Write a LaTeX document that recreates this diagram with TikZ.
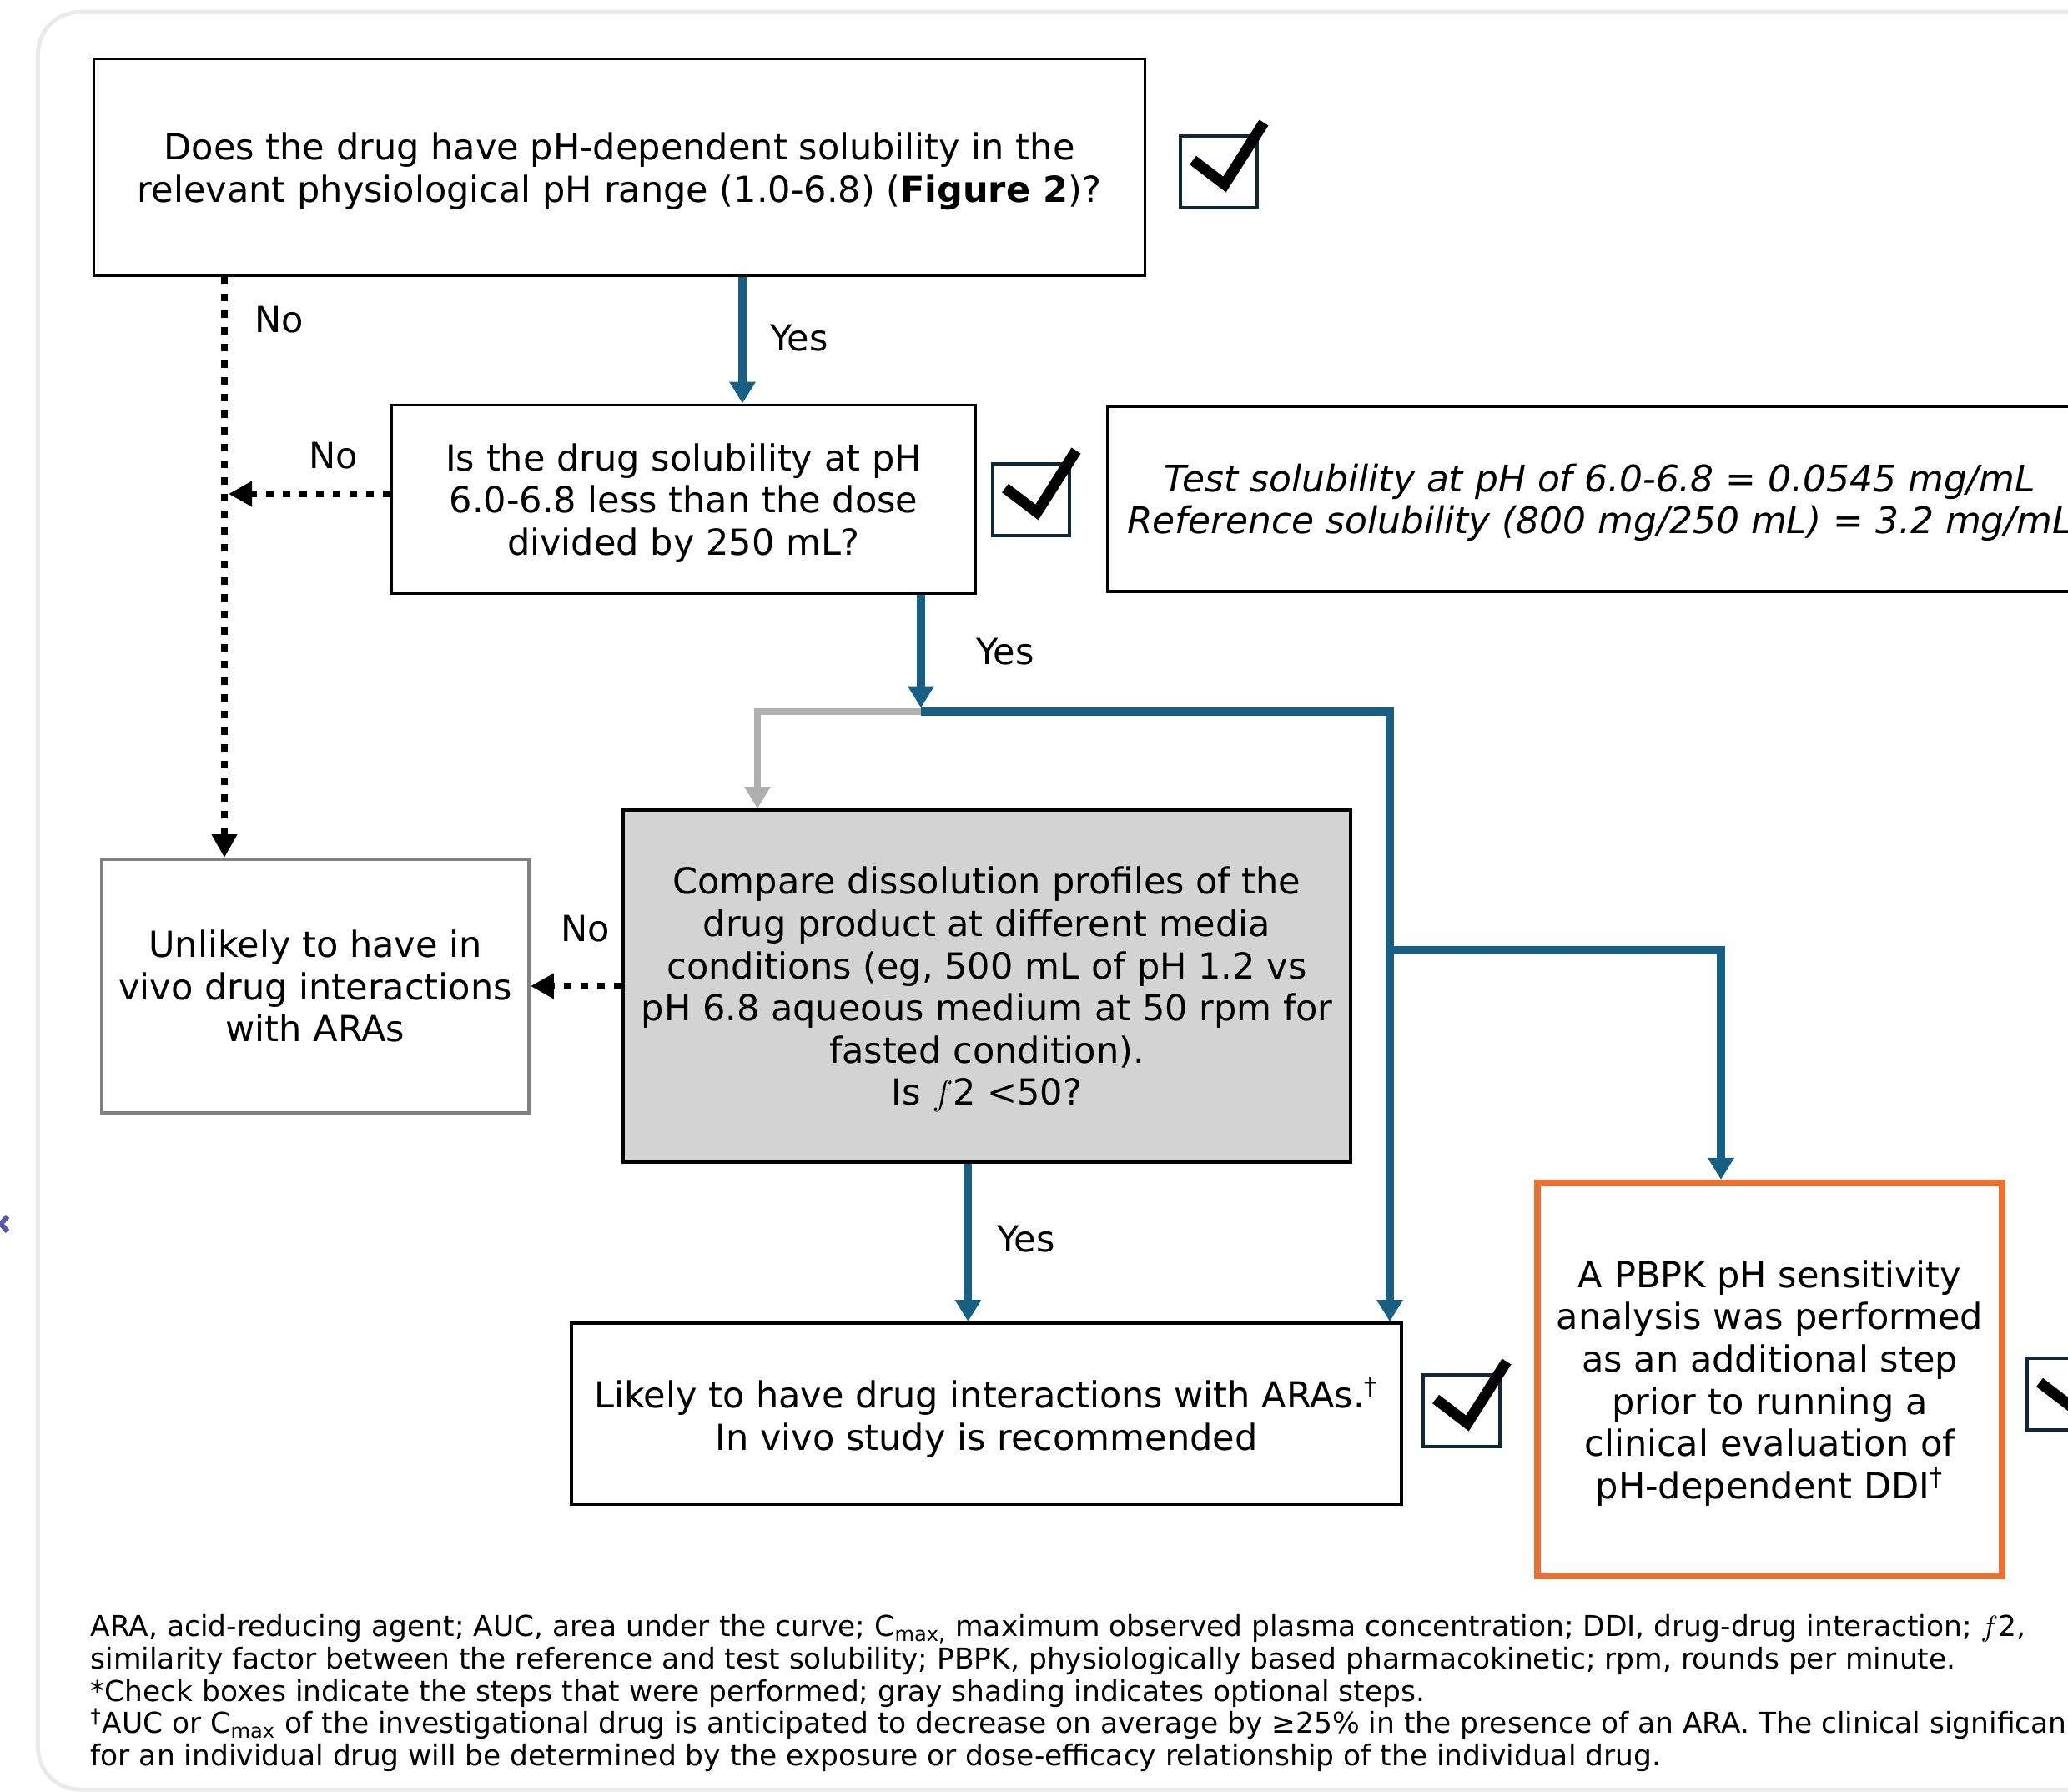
\documentclass[tikz,border=0pt]{standalone}
\usepackage{fontspec}
\setmainfont{DejaVu Sans}
\usetikzlibrary{arrows.meta,calc}

\definecolor{flowblue}{RGB}{23,96,131}
\definecolor{optgray}{RGB}{175,175,175}
\definecolor{optfill}{RGB}{211,211,211}
\definecolor{endgray}{RGB}{128,128,128}
\definecolor{pbpkorange}{RGB}{233,113,50}
\definecolor{chknavy}{RGB}{13,40,56}
\definecolor{framegray}{RGB}{234,234,234}
\definecolor{navpurple}{RGB}{91,87,166}

\begin{document}
\begin{tikzpicture}[
    qbox/.style={draw, line width=1.1pt, align=center, inner sep=0pt, text depth=0pt, font=\fontsize{12.25}{14.4}\selectfont},
    optbox/.style={qbox, fill=optfill},
    endbox/.style={qbox, draw=endgray},
    notebox/.style={qbox, font=\fontsize{12.5}{14.4}\selectfont\itshape},
    pbpkbox/.style={qbox, draw=pbpkorange, line width=2.3pt},
    lbl/.style={font=\fontsize{12.25}{14.4}\selectfont, inner sep=0pt},
    yesarrow/.style={draw=flowblue, line width=2.65pt, -{Triangle[length=2.6mm, width=3mm]}},
    optarrow/.style={draw=optgray, line width=2.55pt, -{Triangle[length=2.6mm, width=3mm]}},
    noarrow/.style={line width=2.55pt, dash pattern=on 0.9mm off 1.1mm, -{Triangle[length=2.8mm, width=2.9mm]}},
    chkbox/.pic={
        \draw[chknavy, line width=1.1pt] (0,0) rectangle (0.92,-0.86);
        \draw[line width=3.7pt, miter limit=10] (0.15,-0.29) -- (0.53,-0.58) -- (1.00,0.16);
    }
]
    \useasboundingbox (0,0) rectangle (24.79,-21.48);
    \clip (0,0) rectangle (24.79,-21.48);

    % Frame
    \draw[framegray, line width=0.05cm, rounded corners=0.5cm] (0.455,-0.145) rectangle (26.5,-21.45);
    \draw[navpurple, line width=0.06cm] (0.09,-14.58) -- (0.01,-14.67) -- (0.09,-14.76);

    % Question 1
    \node[qbox, minimum width=12.6cm, minimum height=2.6cm] (q1) at (7.425,-2.005)
        {Does the drug have pH-dependent solubility in the\\relevant physiological pH range (1.0-6.8) (\textbf{Figure 2})?};
    \pic (chkA) at (14.15,-1.63) {chkbox};

    % Question 2 and solubility values
    \node[qbox, minimum width=7.0cm, minimum height=2.26cm] (q2) at (8.195,-5.985)
        {Is the drug solubility at pH\\6.0-6.8 less than the dose\\divided by 250 mL?};
    \pic (chkB) at (11.90,-5.56) {chkbox};
    \node[notebox, minimum width=11.8cm, minimum height=2.22cm] (sol) at (19.18,-5.98)
        {Test solubility at pH of 6.0-6.8 = 0.0545 mg/mL\\Reference solubility (800 mg/250 mL) = 3.2 mg/mL};

    % Dissolution and outcomes
    \node[endbox, minimum width=5.12cm, minimum height=3.04cm] (unl) at (3.78,-11.82)
        {Unlikely to have in\\vivo drug interactions\\with ARAs};
    \node[optbox, minimum width=8.72cm, minimum height=4.22cm] (cmp) at (11.83,-11.82)
        {Compare dissolution profiles of the\\drug product at different media\\conditions (eg, 500 mL of pH 1.2 vs\\pH 6.8 aqueous medium at 50 rpm for\\fasted condition).\\Is $f$2 <50?};
    \node[qbox, minimum width=9.95cm, minimum height=2.17cm] (lik) at (11.825,-16.945)
        {Likely to have drug interactions with ARAs.\textsuperscript{†}\\In vivo study is recommended};
    \pic (chkC) at (17.06,-16.48) {chkbox};
    \node[pbpkbox, minimum width=5.57cm, minimum height=4.71cm] (pbpk) at (21.215,-16.535)
        {A PBPK pH sensitivity\\analysis was performed\\as an additional step\\prior to running a\\clinical evaluation of\\pH-dependent DDI\textsuperscript{†}};
    \pic (chkD) at (24.30,-16.28) {chkbox};

    % Connectors
    \coordinate (nodrop) at ($(q1.south)+(-4.735,0)$);
    \coordinate (split) at (11.04,-8.53);
    \coordinate (branch) at (16.66,-11.39);

    \draw[yesarrow] ([xshift=1.475cm]q1.south) -- ([xshift=1.475cm]q1.south |- q2.north);
    \draw[noarrow] (nodrop) -- (nodrop |- unl.north);
    \draw[noarrow] ([yshift=0.065cm]q2.west) -- ([yshift=0.065cm, xshift=0.05cm]nodrop |- q2.west);
    \draw[yesarrow] (split |- q2.south) -- ([yshift=0.045cm]split);
    \draw[optarrow] (split) -| ([xshift=-2.75cm]cmp.north);
    \draw[yesarrow] (split) -| ([xshift=4.835cm]lik.north);
    \draw[yesarrow] (branch) -| ([xshift=-0.585cm]pbpk.north);
    \draw[noarrow] (cmp) -- (unl);
    \draw[yesarrow] ([xshift=-0.225cm]cmp.south) -- ([xshift=-0.225cm]cmp.south |- lik.north);

    \node[lbl] (noA) at (3.35,-3.83) {No};
    \node[lbl] (yesA) at (9.58,-4.05) {Yes};
    \node[lbl] (noB) at (4.00,-5.46) {No};
    \node[lbl] (yesB) at (12.05,-7.81) {Yes};
    \node[lbl] (noC) at (7.02,-11.13) {No};
    \node[lbl] (yesC) at (12.30,-14.85) {Yes};

    % Footnotes
    \node[anchor=north west, align=left, inner sep=0pt, font=\fontsize{9.8}{11}\selectfont] (notes) at (1.08,-19.35)
        {ARA, acid-reducing agent; AUC, area under the curve; C\textsubscript{max,} maximum observed plasma concentration; DDI, drug-drug interaction; $f$2,\\
        similarity factor between the reference and test solubility; PBPK, physiologically based pharmacokinetic; rpm, rounds per minute.\\
        {*}Check boxes indicate the steps that were performed; gray shading indicates optional steps.\\
        \textsuperscript{†}AUC or C\textsubscript{max} of the investigational drug is anticipated to decrease on average by ≥25\% in the presence of an ARA. The clinical significance\\
        for an individual drug will be determined by the exposure or dose-efficacy relationship of the individual drug.};
\end{tikzpicture}
\end{document}
